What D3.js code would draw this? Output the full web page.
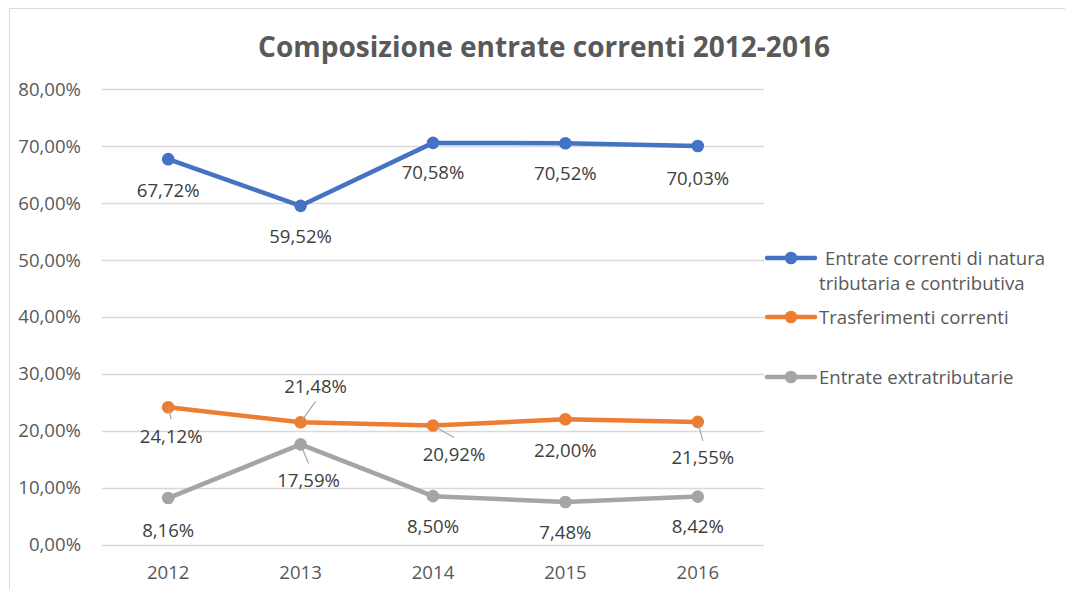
<!DOCTYPE html>
<html>
<head>
<meta charset="utf-8">
<script src="https://cdn.jsdelivr.net/npm/d3@7.9.0/dist/d3.min.js"></script>
<style>
  html, body { margin: 0; padding: 0; background: #fff; }
  svg { display: block; font-family: 'Open Sans', sans-serif; }
</style>
</head>
<body>
<svg id="chart" width="1065" height="589"></svg>
<script>
// data
const years = ['2012', '2013', '2014', '2015', '2016'];
const tributarie = [67.72, 59.52, 70.58, 70.52, 70.03];
const trasferimenti = [24.12, 21.48, 20.92, 22.00, 21.55];
const extratributarie = [8.16, 17.59, 8.50, 7.48, 8.42];
const yTicks = [0, 10, 20, 30, 40, 50, 60, 70, 80];

const seriesNames = [
  ['Entrate correnti di natura', 'tributaria e contributiva'],
  ['Trasferimenti correnti'],
  ['Entrate extratributarie']
];
const seriesValues = [tributarie, trasferimenti, extratributarie];
const colors = ['#4472C4', '#ED7D31', '#A5A5A5'];

// where each data label sits relative to its point [dx, dy, leader line]
const labelPlacement = [
  [[0, 31], [0, 31], [0, 30], [0, 30], [0, 32]],
  [[3, 29, true], [15, -36, true], [21, 29, true], [0, 31], [5, 36, true]],
  [[0, 32], [8, 36, true], [0, 30], [0, 31], [0, 30]]
];

const fmt = (v) => v.toFixed(2).replace('.', ',') + '%';
const fontSize = 18.6;

const svg = d3.select('#chart');

// chart frame (cut off on the right and bottom in the reference)
svg.append('rect')
  .attr('x', 9.5).attr('y', 8.5)
  .attr('width', 1200).attr('height', 800)
  .attr('fill', '#fff')
  .attr('stroke', '#D9D9D9');

const x = d3.scaleBand().domain(years).range([102, 764]);
const y = d3.scaleLinear().domain([0, 80]).range([544.5, 89.3]);
const cx = (d) => x(d) + x.bandwidth() / 2;

// title, fitted to the reference width
const title = svg.append('text')
  .attr('x', 544).attr('y', 57)
  .attr('text-anchor', 'middle')
  .attr('font-weight', 'bold')
  .attr('font-size', 26)
  .attr('fill', '#595959')
  .text('Composizione entrate correnti 2012-2016');
const tw = title.node().getComputedTextLength();
title.attr('font-size', 26 * 572 / tw);

// gridlines
svg.append('g')
  .selectAll('line')
  .data(yTicks)
  .join('line')
  .attr('x1', 102).attr('x2', 764)
  .attr('y1', (d) => Math.round(y(d)) + 0.5)
  .attr('y2', (d) => Math.round(y(d)) + 0.5)
  .attr('stroke', '#D9D9D9')
  .attr('stroke-width', 1.3);

// y axis labels
svg.append('g')
  .selectAll('text')
  .data(yTicks)
  .join('text')
  .attr('x', 81)
  .attr('y', (d) => y(d))
  .attr('dy', '0.35em')
  .attr('text-anchor', 'end')
  .attr('font-size', fontSize)
  .attr('fill', '#595959')
  .text((d) => fmt(d));

// x axis labels
svg.append('g')
  .selectAll('text')
  .data(years)
  .join('text')
  .attr('x', cx)
  .attr('y', 572)
  .attr('dy', '0.35em')
  .attr('text-anchor', 'middle')
  .attr('font-size', fontSize)
  .attr('fill', '#595959')
  .text((d) => d);

const line = d3.line()
  .x((d, i) => cx(years[i]))
  .y((d) => y(d));

seriesValues.forEach((values, s) => {
  const g = svg.append('g');

  g.append('path')
    .datum(values)
    .attr('d', line)
    .attr('fill', 'none')
    .attr('stroke', colors[s])
    .attr('stroke-width', 4.5)
    .attr('stroke-linejoin', 'round')
    .attr('stroke-linecap', 'round');

  g.selectAll('circle')
    .data(values)
    .join('circle')
    .attr('cx', (d, i) => cx(years[i]))
    .attr('cy', (d) => y(d))
    .attr('r', 6.3)
    .attr('fill', colors[s]);

  values.forEach((v, i) => {
    const [dx, dy, leader] = labelPlacement[s][i];
    const px = cx(years[i]);
    const py = y(v);
    const lx = px + dx;
    const ly = py + dy;

    if (leader) {
      const edge = dy > 0 ? ly - 17 : ly + 15;
      g.append('line')
        .attr('x1', px + (lx - px) * 0.1)
        .attr('y1', py + (edge - py) * 0.1)
        .attr('x2', lx)
        .attr('y2', edge)
        .attr('stroke', '#A6A6A6')
        .attr('stroke-width', 1.2);
    }

    g.append('text')
      .attr('x', lx)
      .attr('y', ly)
      .attr('dy', '0.35em')
      .attr('text-anchor', 'middle')
      .attr('font-size', fontSize)
      .attr('fill', '#404040')
      .text(fmt(v));
  });
});

// legend
const legendY = [258, 317, 377];
seriesNames.forEach((names, s) => {
  const g = svg.append('g');
  g.append('line')
    .attr('x1', 767).attr('x2', 815)
    .attr('y1', legendY[s]).attr('y2', legendY[s])
    .attr('stroke', colors[s])
    .attr('stroke-width', 4.5)
    .attr('stroke-linecap', 'round');
  g.append('circle')
    .attr('cx', 791).attr('cy', legendY[s])
    .attr('r', 6.3)
    .attr('fill', colors[s]);
  names.forEach((name, k) => {
    g.append('text')
      .attr('x', k === 0 && names.length > 1 ? 825 : 819)
      .attr('y', legendY[s] + k * 25)
      .attr('dy', '0.35em')
      .attr('font-size', fontSize)
      .attr('fill', '#595959')
      .text(name);
  });
});
</script>
</body>
</html>
